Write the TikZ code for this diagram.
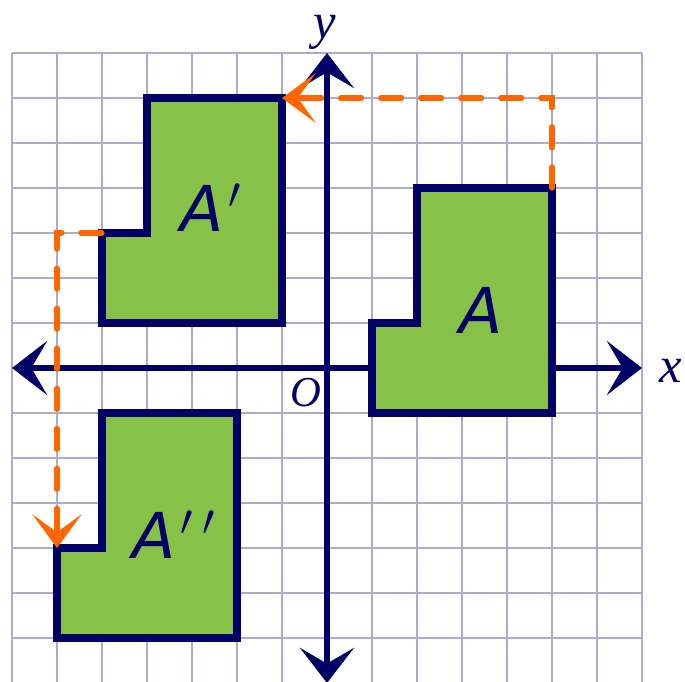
\RequirePackage{fix-cm}
\documentclass[tikz,border=0pt]{standalone}
\usepackage{fontspec}
\setmainfont{Liberation Serif}
\newfontfamily\labelfont{DejaVu Sans}
\usetikzlibrary{arrows.meta}
\definecolor{navy}{RGB}{0,0,102}
\definecolor{gridblue}{RGB}{172,172,204}
\definecolor{shapegreen}{RGB}{134,193,72}
\definecolor{pathorange}{RGB}{255,102,0}

\begin{document}
\begin{tikzpicture}[
  gridline/.style={draw=gridblue, line width=1.3pt},
  axis/.style={draw=navy, line width=3.8pt, {Stealth[length=0.78cm, width=1.2cm, inset=0.35cm]}-{Stealth[length=0.78cm, width=1.2cm, inset=0.35cm]}},
  region/.style={draw=navy, fill=shapegreen, line width=4.5pt},
  move/.style={draw=pathorange, line width=3.2pt, line cap=round, dash pattern=on 0.47cm off 0.42cm, -{Stealth[length=0.75cm, width=1.1cm, inset=0.4cm]}},
  axlabel/.style={text=navy, inner sep=0pt, font=\itshape\fontsize{32}{32}\selectfont},
  shapelabel/.style={text=navy, inner sep=0pt, font=\labelfont\itshape\fontsize{40}{40}\selectfont}]
\useasboundingbox (-7.267,-6.978) rectangle (7.956,8.178);
% grid and axes
\draw[gridline] (-7,-7) grid (7,7);
\coordinate (xl) at (-7,0);
\coordinate (xr) at (7,0);
\coordinate (yb) at (0,-7);
\coordinate (yt) at (0,7);
\draw[axis] (xl) -- (xr);
\draw[axis] (yb) -- (yt);
% figure A
\draw[region] (1,-1) -- (5,-1) -- (5,4) coordinate (atop) -- (2,4) -- (2,1) -- (1,1) -- cycle;
% image A'
\draw[region] (-4,6) -- (-1,6) coordinate (a1top) -- (-1,1) -- (-5,1) -- (-5,3) coordinate (a1step) -- (-4,3) -- cycle;
% image A''
\draw[region] (-5,-1) -- (-2,-1) -- (-2,-6) -- (-6,-6) -- (-6,-4) coordinate (a2step) -- (-5,-4) -- cycle;
% moves
\draw[move] (atop) -- ++(0,2) -- (a1top);
\draw[move] (a1step) -- ++(-1,0) -- (a2step);
% labels
\node[shapelabel] (la) at (3.42,1.29) {A};
\node[shapelabel] (la1) at (-2.58,3.56) {A$^{\mkern2mu\prime}$};
\node[shapelabel] (la2) at (-3.4,-3.71) {A$^{\mkern2mu\prime\mkern4mu\prime}$};
\node[axlabel] (lx) at (7.64,-0.07) {x};
\node[axlabel] (ly) at (-0.04,7.47) {y};
\node[axlabel, font=\itshape\fontsize{27}{27}\selectfont] (lo) at (-0.47,-0.55) {O};
\end{tikzpicture}
\end{document}
